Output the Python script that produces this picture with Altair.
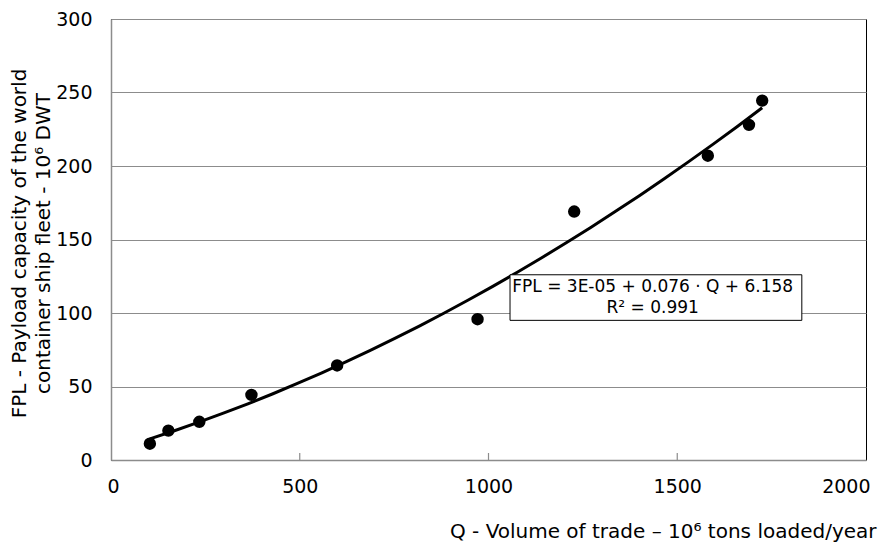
import altair as alt
import pandas as pd

# ---- data ----
Q = [103, 152, 234, 372, 599, 971, 1227, 1581, 1690, 1725]
FPL = [11.1, 20.0, 26.0, 44.3, 64.3, 95.8, 169.0, 207.0, 228.0, 244.5]

x_ticks = [0, 500, 1000, 1500, 2000]
inner_ticks = [500, 1000, 1500]
y_ticks = [0, 50, 100, 150, 200, 250, 300]

x_title = "Q - Volume of trade \u2013 10\u2076 tons loaded/year"
y_title = ["FPL - Payload capacity of the world", "container ship fleet - 10\u2076 DWT"]
eq_text = ["FPL = 3E-05 + 0.076 \u00b7 Q + 6.158", "R\u00b2 = 0.991"]

# annotation box placement (data units)
box_q = [1057, 1830]
box_f = [95, 126]
text_q = 1435
text_f = 117.6

FONT = "DejaVu Sans"
GRAY = "#8c8c8c"
W, H = 755, 441

df = pd.DataFrame({"Q": Q, "FPL": FPL})
xs = alt.Scale(domain=[0, 2000], nice=False, zero=False)
ys = alt.Scale(domain=[0, 300], nice=False, zero=False)

base = alt.Chart(df)

points = base.mark_circle(size=154, color="black", opacity=1).encode(
    x=alt.X(
        "Q:Q",
        scale=xs,
        axis=alt.Axis(
            orient="bottom",
            values=x_ticks,
            format="d",
            grid=False,
            ticks=False,
            tickSize=0,
            domainColor=GRAY,
            domainWidth=1.5,
            labelFont=FONT,
            labelFontSize=19,
            labelColor="black",
            labelPadding=17,
            labelFlush=True,
            labelFlushOffset=4,
            title=x_title,
            titleFont=FONT,
            titleFontSize=20,
            titleFontWeight="normal",
            titleColor="black",
            titleAlign="right",
            titleX=W + 10,
            titleY=77,
            titleBaseline="alphabetic",
        ),
    ),
    y=alt.Y(
        "FPL:Q",
        scale=ys,
        axis=alt.Axis(
            values=y_ticks,
            format="d",
            grid=True,
            gridColor=GRAY,
            gridWidth=1.2,
            ticks=False,
            tickSize=0,
            domainColor=GRAY,
            domainWidth=1.5,
            labelFont=FONT,
            labelFontSize=19,
            labelColor="black",
            labelPadding=19,
            labelFlush=False,
            title=y_title,
            titleFont=FONT,
            titleFontSize=20,
            titleFontWeight="normal",
            titleColor="black",
            titleAlign="center",
            titleBaseline="middle",
            titleLineHeight=24,
            titleX=-92,
            titleY=224,
        ),
    ),
)

curve = (
    base.transform_regression("Q", "FPL", method="poly", order=2)
    .mark_line(color="black", strokeWidth=3)
    .encode(x=alt.X("Q:Q", scale=xs), y=alt.Y("FPL:Q", scale=ys))
)

tick_df = pd.DataFrame({"Q": inner_ticks})
ticks = alt.Chart(tick_df).mark_rule(color=GRAY, strokeWidth=1.2).encode(
    x=alt.X("Q:Q", scale=xs),
    y=alt.value(H - 7),
    y2=alt.value(H),
)

box_df = pd.DataFrame({"Q": [box_q[0]], "q2": [box_q[1]], "FPL": [box_f[0]], "f2": [box_f[1]]})
box = alt.Chart(box_df).mark_rect(fill="white", stroke="black", strokeWidth=1).encode(
    x=alt.X("Q:Q", scale=xs),
    x2="q2:Q",
    y=alt.Y("FPL:Q", scale=ys),
    y2="f2:Q",
)

txt_df = pd.DataFrame({"Q": [text_q], "FPL": [text_f], "t": [eq_text]})
label = alt.Chart(txt_df).mark_text(
    font=FONT, fontSize=17, color="black", align="center", baseline="middle", lineHeight=21
).encode(
    x=alt.X("Q:Q", scale=xs),
    y=alt.Y("FPL:Q", scale=ys),
    text="t",
)

chart = (
    alt.layer(points, curve, ticks, box, label)
    .properties(
        width=W,
        height=H,
        padding={"left": 103, "top": 11, "right": 16, "bottom": 83},
        autosize=alt.AutoSizeParams(type="none"),
        background="white",
    )
    .configure_view(stroke="black", strokeWidth=1)
)

chart.save("out.html", embed_options={"renderer": "svg", "actions": False})
